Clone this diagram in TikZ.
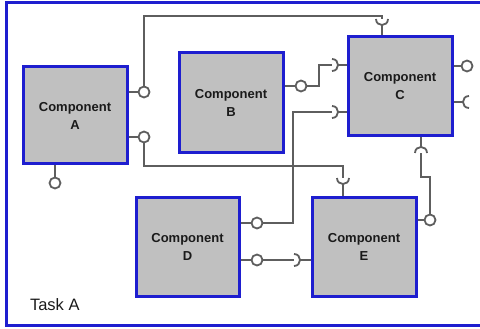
\documentclass[tikz,border=0pt]{standalone}
\usepackage{fontspec}
\setmainfont{Liberation Sans}
\definecolor{frameblue}{HTML}{1E1ECF}
\definecolor{boxgray}{HTML}{C0C0C0}
\definecolor{wiregray}{HTML}{5E5E5E}
\definecolor{txt}{HTML}{1A1A1A}
\begin{document}
\begin{tikzpicture}[x=1pt,y=-1pt,
  comp/.style={draw=frameblue, line width=3pt, fill=boxgray, inner sep=0pt,
    align=center, text=txt, font=\fontsize{13}{18}\selectfont\bfseries},
  wire/.style={draw=wiregray, line width=1.8pt},
  lolli/.style={circle, draw=wiregray, line width=1.8pt, fill=white, minimum size=11pt, inner sep=0pt},
]
\useasboundingbox (0,0) rectangle (480,329);
% frame
\draw[frameblue, line width=3pt] (484,2.5) -- (6.5,2.5) -- (6.5,325.5) -- (484,325.5);
\node[font=\fontsize{16.5}{18}\selectfont, text=txt, anchor=base west] (task) at (26.5,310) {Task A};

% components
\node[comp, minimum width=104pt, minimum height=97pt] (A) at (75,115.5) {Component\\A};
\node[comp, minimum width=104pt, minimum height=100pt] (B) at (231,103) {Component\\B};
\node[comp, minimum width=104pt, minimum height=99pt] (C) at (400,86.5) {Component\\C};
\node[comp, minimum width=103pt, minimum height=99pt] (D) at (187.5,246.5) {Component\\D};
\node[comp, minimum width=104pt, minimum height=99pt] (E) at (364,246.5) {Component\\E};

% lollipops (provided interfaces)
\node[lolli] (la1) at (144,92) {};
\node[lolli] (la2) at (144,137) {};
\node[lolli] (la3) at (55,183) {};
\node[lolli] (lb) at (301,86) {};
\node[lolli] (lc) at (467,66) {};
\node[lolli] (ld1) at (257,223) {};
\node[lolli] (ld2) at (257,260) {};
\node[lolli] (le) at (430,220) {};
\draw[wire] (A.east |- la1) -- (la1);
\draw[wire] (A.east |- la2) -- (la2);
\draw[wire] (A.south -| la3) -- (la3);
\draw[wire] (B.east |- lb) -- (lb);
\draw[wire] (C.east |- lc) -- (lc);
\draw[wire] (D.east |- ld1) -- (ld1);
\draw[wire] (D.east |- ld2) -- (ld2);
\draw[wire] (E.east |- le) -- (le);

% sockets (required interfaces): centre coordinates
\coordinate (s1) at (382,19);   % C top, opening up
\coordinate (s2) at (332,65);   % C left, opening left
\coordinate (s3) at (332,112);  % C left, opening left
\coordinate (s4) at (469,102);  % C right, opening right
\coordinate (s5) at (421,153);  % C bottom, opening down
\coordinate (s6) at (343,178);  % E top, opening up
\coordinate (s7) at (294,260);  % E left, opening left
% up-opening cups
\foreach \s in {s1,s6}{
  \draw[wire] ([xshift=-6pt]\s) .. controls ([xshift=-6pt,yshift=-8pt]\s) and ([xshift=6pt,yshift=-8pt]\s) .. ([xshift=6pt]\s);
}
% left-opening cups
\foreach \s in {s2,s3,s7}{
  \draw[wire] ([yshift=6pt]\s) .. controls ([xshift=8pt,yshift=6pt]\s) and ([xshift=8pt,yshift=-6pt]\s) .. ([yshift=-6pt]\s);
}
% right-opening cup
\draw[wire] ([yshift=6pt]s4) .. controls ([xshift=-8pt,yshift=6pt]s4) and ([xshift=-8pt,yshift=-6pt]s4) .. ([yshift=-6pt]s4);
% down-opening cup
\draw[wire] ([xshift=-6pt]s5) .. controls ([xshift=-6pt,yshift=8pt]s5) and ([xshift=6pt,yshift=8pt]s5) .. ([xshift=6pt]s5);
% socket stems
\draw[wire] ([yshift=-6pt]s1) -- (C.north -| s1);
\draw[wire] ([yshift=-6pt]s6) -- (E.north -| s6);
\draw[wire] ([xshift=6pt]s2) -- (C.west |- s2);
\draw[wire] ([xshift=6pt]s3) -- (C.west |- s3);
\draw[wire] ([xshift=6pt]s7) -- (E.west |- s7);
\draw[wire] ([xshift=-6pt]s4) -- (C.east |- s4);
\draw[wire] ([yshift=6pt]s5) -- (C.south -| s5);

% connectors
\draw[wire] (la1.north) -- (144,16) -- (382,16) -- (s1);
\draw[wire] (la2.south) -- (144,166) -- (343,166) -- (s6);
\draw[wire] (lb.east) -- (319,86) -- (319,65) -- (s2);
\draw[wire] (ld1.east) -- (293,223) -- (293,112) -- (s3);
\draw[wire] (ld2.east) -- (s7);
\draw[wire] (le.north) -- (430,177) -- (421,177) -- (s5);
\end{tikzpicture}
\end{document}
